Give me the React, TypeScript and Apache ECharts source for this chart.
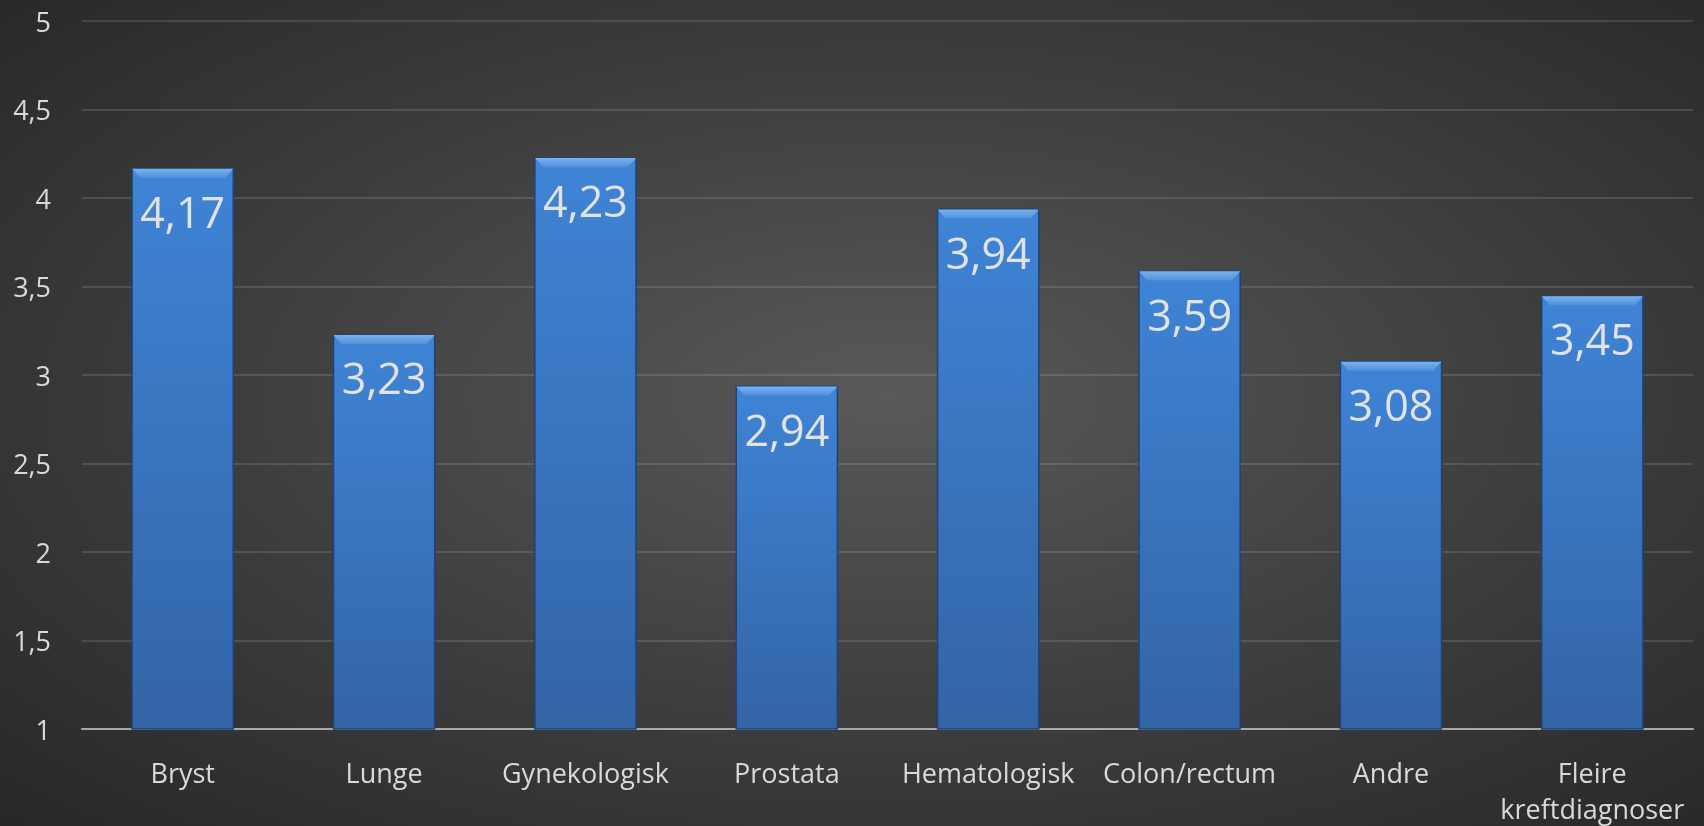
import React, { useEffect, useRef } from "react";
import * as echarts from "echarts";

const categories = [
  "Bryst",
  "Lunge",
  "Gynekologisk",
  "Prostata",
  "Hematologisk",
  "Colon/rectum",
  "Andre",
  "Fleire\nkreftdiagnoser",
];
const values = [4.17, 3.23, 4.23, 2.94, 3.94, 3.59, 3.08, 3.45];
const yMin = 1;
const yMax = 5;
const yInterval = 0.5;

const BAR_RATIO = 0.51;

export default function App() {
  const ref = useRef<HTMLDivElement>(null);
  useEffect(() => {
    if (!ref.current) return;
    const chart = echarts.init(ref.current, undefined, { renderer: "svg" });
    const fmt = (v: number) => String(v).replace(".", ",");
    chart.setOption({
      animation: false,
      backgroundColor: "transparent",
      grid: { left: 82, right: 11, top: 21, bottom: 97, containLabel: false },
      xAxis: {
        type: "category",
        data: categories,
        boundaryGap: true,
        axisLine: { show: true, lineStyle: { color: "#a9a9a9", width: 2 } },
        axisTick: { show: false },
        axisLabel: {
          color: "#d9d9d9",
          fontFamily: "Open Sans",
          fontSize: 27,
          lineHeight: 36,
          margin: 25,
          interval: 0,
        },
      },
      yAxis: {
        type: "value",
        min: yMin,
        max: yMax,
        interval: yInterval,
        axisLine: { show: false },
        axisTick: { show: false },
        axisLabel: {
          color: "#d9d9d9",
          fontFamily: "Open Sans",
          fontSize: 27,
          margin: 31,
          formatter: (v: number) => fmt(v),
        },
        splitLine: { lineStyle: { color: "rgba(255,255,255,0.12)", width: 2 } },
      },
      series: [
        {
          type: "bar",
          data: values,
          barWidth: BAR_RATIO * 100 + "%",
          z: 2,
          itemStyle: {
            color: new echarts.graphic.LinearGradient(0, 0, 0, 1, [
              { offset: 0, color: "#3f84d6" },
              { offset: 1, color: "#3364a6" },
            ]),
            borderColor: "#1f4375",
            borderWidth: 1.5,
          },
          label: {
            show: true,
            position: "insideTop",
            distance: 22,
            color: "#e2e2e2",
            fontFamily: "Open Sans",
            fontSize: 43,
            formatter: (p: any) => fmt(p.value),
          },
        },
        {
          type: "custom",
          data: values.map((v, i) => [i, v]),
          z: 3,
          silent: true,
          renderItem: (params: any, api: any) => {
            const pt = api.coord([api.value(0), api.value(1)]);
            const w = api.size([1, 0])[0] * BAR_RATIO;
            const x0 = pt[0] - w / 2;
            const x1 = pt[0] + w / 2;
            const y = pt[1];
            return {
              type: "polygon",
              shape: {
                points: [
                  [x0 + 0.8, y + 0.8],
                  [x1 - 0.8, y + 0.8],
                  [x1 - 9, y + 10],
                  [x0 + 9, y + 10],
                ],
              },
              style: {
                fill: new echarts.graphic.LinearGradient(0, 0, 0, 1, [
                  { offset: 0, color: "#7ab2ee" },
                  { offset: 1, color: "#4f8fdc" },
                ]),
              },
            };
          },
        },
      ],
    });
    return () => chart.dispose();
  }, []);
  return (
    <div
      style={{
        position: "fixed",
        left: 0,
        top: 0,
        width: 1704,
        height: 826,
        background:
          "radial-gradient(ellipse 75% 75% at 52% 48%, #595959 0%, #3c3c3c 55%, #262626 100%)",
      }}
    >
      <div ref={ref} style={{ width: 1704, height: 826 }} />
    </div>
  );
}
